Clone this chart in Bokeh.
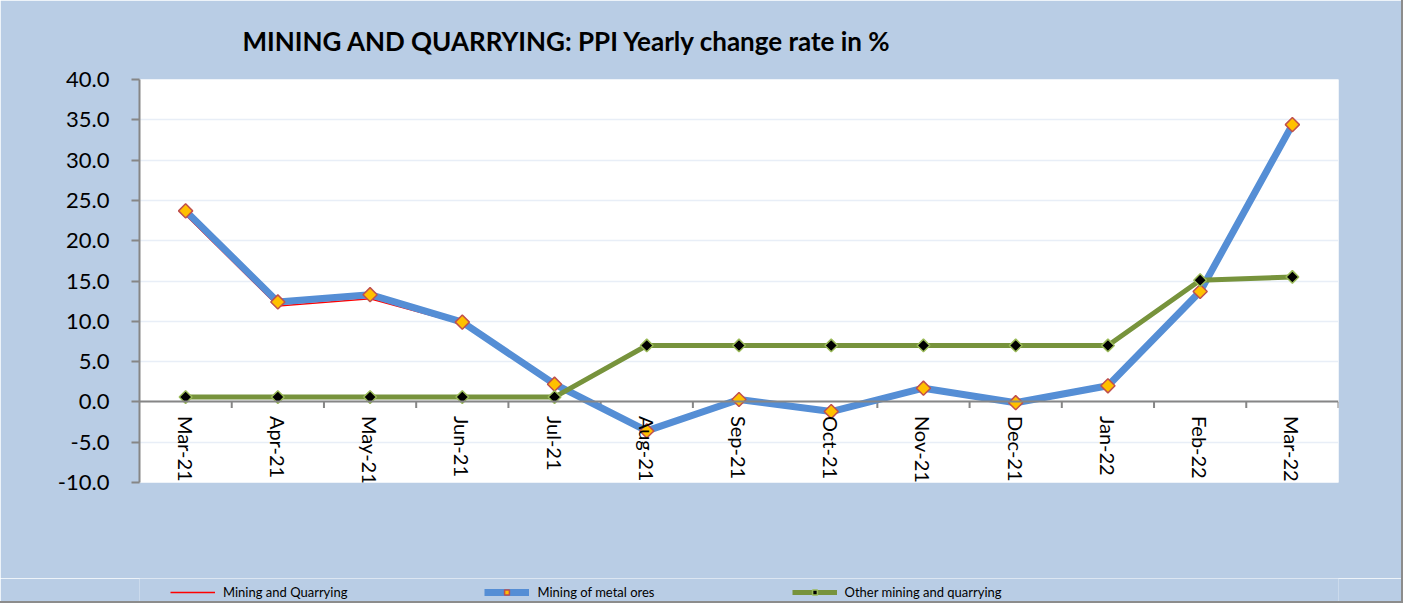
import numpy as np
from bokeh.plotting import figure
from bokeh.layouts import column
from bokeh.models import (Range1d, FactorRange, FixedTicker, Legend, LegendItem,
                          NumeralTickFormatter, CategoricalAxis)
from bokeh.embed import file_html
from bokeh.resources import INLINE

categories = ["Mar-21", "Apr-21", "May-21", "Jun-21", "Jul-21", "Aug-21", "Sep-21",
              "Oct-21", "Nov-21", "Dec-21", "Jan-22", "Feb-22", "Mar-22"]
mining_quarrying = [23.2, 11.9, 12.8, 9.7, 2.2, -3.5, 0.2, -1.3, 1.6, -0.1, 2.0, 13.5, 34.2]
metal_ores = [23.7, 12.4, 13.3, 9.9, 2.2, -3.6, 0.3, -1.2, 1.7, -0.1, 2.0, 13.7, 34.4]
other_mining = [0.6, 0.6, 0.6, 0.6, 0.6, 7.0, 7.0, 7.0, 7.0, 7.0, 7.0, 15.1, 15.5]
series_names = ["Mining and Quarrying", "Mining of metal ores", "Other mining and quarrying"]
y_ticks = [-10, -5, 0, 5, 10, 15, 20, 25, 30, 35, 40]

FONT = "Lato"
BG = "#B9CDE5"

p = figure(width=1401, height=578, x_range=FactorRange(*categories), y_range=Range1d(-10, 40),
           output_backend="svg", toolbar_location=None, x_axis_location=None)
p.min_border_left = 139
p.min_border_right = 63
p.min_border_top = 79
p.min_border_bottom = 96
p.border_fill_color = BG
p.background_fill_color = "white"
p.outline_line_color = None

p.title.text = "MINING AND QUARRYING:  PPI  Yearly change rate  in %"
p.title.text_font = FONT
p.title.text_font_size = "26px"
p.title.text_font_style = "bold"
p.title.text_color = "black"
p.title.align = "left"
p.title.offset = 103
p.title.standoff = 45

# y axis
ya = p.yaxis[0]
ya.ticker = FixedTicker(ticks=y_ticks)
ya.formatter = NumeralTickFormatter(format="0.0")
ya.major_label_text_font = FONT
ya.major_label_text_font_size = "22px"
ya.major_label_text_color = "black"
ya.axis_line_color = "#868686"
ya.axis_line_width = 2
ya.major_tick_line_color = "#868686"
ya.major_tick_line_width = 2
ya.major_tick_out = 8
ya.major_tick_in = 0
ya.minor_tick_line_color = None
ya.major_label_standoff = 22

p.ygrid.ticker = FixedTicker(ticks=y_ticks)
p.ygrid.grid_line_color = "#E8EEF7"
p.ygrid.grid_line_width = 1.5
p.xgrid.grid_line_color = None

# x axis at zero: category labels
xa = CategoricalAxis(fixed_location=0)
xa.major_label_orientation = "vertical"
xa.major_label_text_font = FONT
xa.major_label_text_font_size = "20px"
xa.major_label_text_color = "black"
xa.major_label_standoff = 8
xa.major_tick_line_color = None
xa.axis_line_color = "#868686"
xa.axis_line_width = 2
p.add_layout(xa, "below")

# category boundary tick marks below the zero axis
bounds = [(c, -0.5) for c in categories[1:]] + [(categories[-1], 0.5)]
p.segment(x0=bounds, x1=bounds, y0=[0] * len(bounds), y1=[-0.75] * len(bounds),
          line_color="#868686", line_width=2)

STYLE_RED = dict(line_color="red", line_width=1.5)
STYLE_BLUE = dict(line_color="#558ED5", line_width=7)
STYLE_GREEN = dict(line_color="#77933C", line_width=5)
MK_BLUE = dict(marker="square", angle=np.pi / 4, size=10, fill_color="#FFC000",
               line_color="#C0504D", line_width=1.5)
MK_GREEN = dict(marker="square", angle=np.pi / 4, size=9, fill_color="black",
                line_color="#9BBB59", line_width=1.5)


def draw(fig):
    r1 = fig.line(categories, mining_quarrying, **STYLE_RED)
    r2 = fig.line(categories, metal_ores, **STYLE_BLUE)
    r3 = fig.line(categories, other_mining, **STYLE_GREEN)
    m2 = fig.scatter(categories, metal_ores, **MK_BLUE)
    m3 = fig.scatter(categories, other_mining, **MK_GREEN)
    return [[r1], [r2, m2], [r3, m3]]


draw(p)

# legend strip beneath the chart (its own series copies sit outside its visible range)
lg = figure(width=1401, height=23, x_range=FactorRange(*categories), y_range=Range1d(1000, 1001),
            output_backend="svg", toolbar_location=None, x_axis_location=None,
            y_axis_location=None, min_border=0)
lg.border_fill_color = BG
lg.background_fill_color = BG
lg.outline_line_color = None
lg.xgrid.grid_line_color = None
lg.ygrid.grid_line_color = None
groups = draw(lg)

legend = Legend(items=[LegendItem(label=n, renderers=g) for n, g in zip(series_names, groups)],
                orientation="horizontal", location=(31, 1))
legend.background_fill_alpha = 0
legend.border_line_color = None
legend.label_text_font = FONT
legend.label_text_font_size = "13px"
legend.label_text_color = "black"
legend.glyph_width = 45
legend.glyph_height = 12
legend.spacing = 137
legend.label_standoff = 8
legend.padding = 0
legend.margin = 0
lg.add_layout(legend, "center")

layout = column(p, lg, spacing=0)
layout.styles = {"outline": "2px solid #8C8C8C"}

open("out.html", "w").write(file_html(layout, INLINE))
